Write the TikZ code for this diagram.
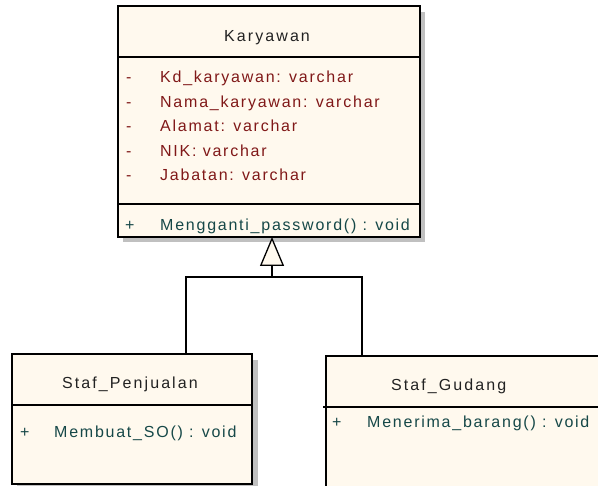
\documentclass[tikz,border=0pt]{standalone}
\usepackage{fontspec}
\setmainfont{Liberation Sans}[LetterSpace=11]
\newfontfamily\titlefont{Liberation Sans}[LetterSpace=13]
\usetikzlibrary{arrows.meta}
\definecolor{classfill}{RGB}{255,249,238}
\definecolor{attrcol}{RGB}{128,24,24}
\definecolor{opcol}{RGB}{22,72,72}
\definecolor{titlecol}{RGB}{34,34,34}
\definecolor{shadecol}{RGB}{192,192,192}
\tikzset{
  x=1pt, y=-1pt,
  classbox/.style={draw=black, line width=1.3pt, fill=classfill, rectangle,
    anchor=north west, inner sep=0pt, outer sep=0pt},
  shade/.style={fill=shadecol, draw=none},
  divider/.style={draw=black, line width=1.3pt},
  title/.style={anchor=base west, inner sep=0pt, text=titlecol, font=\titlefont\fontsize{16}{19}\selectfont},
  attr/.style={anchor=base west, inner sep=0pt, text=attrcol, font=\fontsize{16}{19}\selectfont},
  op/.style={anchor=base west, inner sep=0pt, text=opcol, font=\fontsize{16}{19}\selectfont},
  link/.style={draw=black, line width=1.3pt},
}
\begin{document}
\begin{tikzpicture}
\useasboundingbox (0,0) rectangle (598,486);
\clip (0,0) rectangle (598,486);

% drop shadows
\fill[shade] (123,12) rectangle (425,242);
\fill[shade] (17,360) rectangle (258,490);

% class Karyawan
\node[classbox, minimum width=302pt, minimum height=231pt] (kary) at (118,6) {};
\draw[divider] (118,57) -- (420,57);
\draw[divider] (118,204) -- (420,204);
\node[title] (karyT) at (224,42) {Karyawan};
\node[attr] (a1m) at (126,83) {-};
\node[attr] (a1) at (160,83) {Kd\_karyawan: varchar};
\node[attr] (a2m) at (126,107.5) {-};
\node[attr] (a2) at (160,107.5) {Nama\_karyawan: varchar};
\node[attr] (a3m) at (126,132) {-};
\node[attr] (a3) at (160,132) {Alamat: varchar};
\node[attr] (a4m) at (126,156.5) {-};
\node[attr] (a4) at (160,156.5) {NIK: varchar};
\node[attr] (a5m) at (126,181) {-};
\node[attr] (a5) at (160,181) {Jabatan: varchar};
\node[op] (o1m) at (125,231) {+};
\node[op] (o1) at (160,231) {Mengganti\_password() : void};

% class Staf_Penjualan
\node[classbox, minimum width=240pt, minimum height=130pt] (pen) at (12,354) {};
\draw[divider] (12,405) -- (252,405);
\node[title] (penT) at (62,389) {Staf\_Penjualan};
\node[op] (p1m) at (20,438) {+};
\node[op] (p1) at (54,438) {Membuat\_SO() : void};

% class Staf_Gudang
\node[classbox, minimum width=300pt, minimum height=131pt] (gud) at (326,356) {};
\draw[divider] (323,407) -- (626,407);
\node[title] (gudT) at (391,391) {Staf\_Gudang};
\node[op] (g1m) at (332,428) {+};
\node[op] (g1) at (367,428) {Menerima\_barang() : void};

% generalisation
\coordinate (join) at (272,277);
\draw[link] ([xshift=54pt]pen.north) |- (join);
\draw[link] ([xshift=-114pt]gud.north) |- (join);
\draw[link, -{Triangle[open, length=29pt, width=24pt, fill=classfill]}]
  (join) -- ([xshift=3pt]kary.south);
\end{tikzpicture}
\end{document}
